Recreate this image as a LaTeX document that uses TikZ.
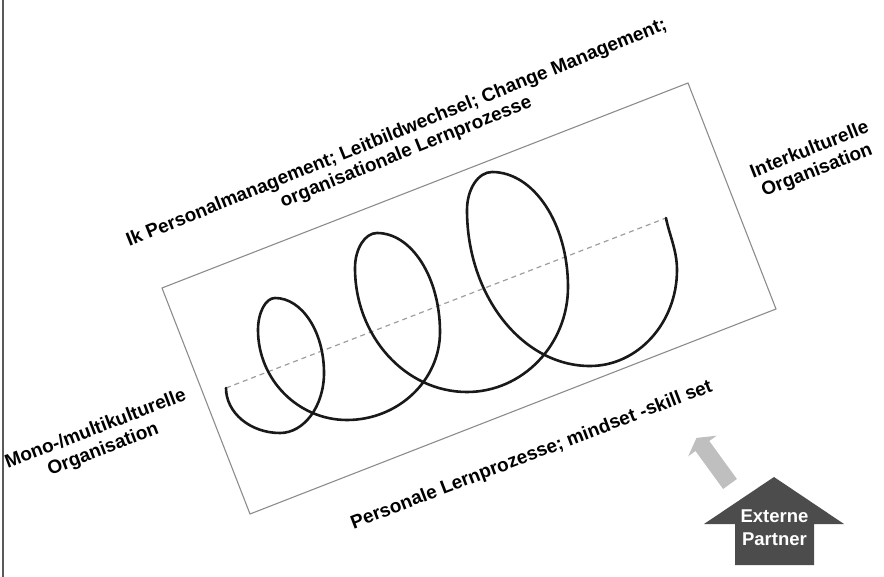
\documentclass[tikz,border=0pt]{standalone}
\usepackage{fontspec}
\setmainfont{Liberation Sans}
\begin{document}
\begin{tikzpicture}[x=1pt,y=-1pt,
  lbl/.style={font=\fontsize{19}{21}\selectfont\bfseries, inner sep=0pt},
  wlbl/.style={font=\fontsize{18.5}{22}\selectfont\bfseries, text=white, inner sep=0pt},
  boxline/.style={draw=black!45, line width=1.1pt},
  axisline/.style={draw=black!38, dash pattern=on 5pt off 4pt, line width=1.2pt},
  coil/.style={draw=black!90, line width=2.6pt, line cap=round},
]
\useasboundingbox (0,0) rectangle (884,577);
\coordinate (ft) at (3,0);
\coordinate (fb) at (3,577);
\draw[line width=2pt, black!65] (ft) -- (fb);

% rotated frame
\coordinate (tl) at (162,288);
\coordinate (tr) at (688,83);
\coordinate (br) at (776,309);
\coordinate (bl) at (250,514);
\draw[boxline] (tl) -- (tr) -- (br) -- (bl) -- cycle;

% axis
\coordinate (s) at (226,388);
\coordinate (e) at (666,218);
\draw[axisline] (s) -- (e);

% coil
\draw[coil] (s)
 .. controls +(0,24.75) and +(-29.7,0) .. (280,433)
 .. controls +(24.2,0) and +(0,33) .. (324,373)
 .. controls +(0,-41.25) and +(26.95,0) .. (275,298)
 .. controls +(-9.35,0) and +(0,-17.6) .. (258,330)
 .. controls +(0,49.5) and +(-48.95,0) .. (347,420)
 .. controls +(51.15,0) and +(0,48.4) .. (440,332)
 .. controls +(0,-54.45) and +(34.65,0) .. (377,233)
 .. controls +(-12.1,0) and +(0,-19.25) .. (355,268)
 .. controls +(0,68.2) and +(-61.6,0) .. (467,392)
 .. controls +(55.55,0) and +(0,57.75) .. (568,287)
 .. controls +(0,-63.25) and +(41.8,0) .. (492,172)
 .. controls +(-13.75,0) and +(0,-20.9) .. (467,210)
 .. controls +(0,85.8) and +(-67.65,0) .. (590,366)
 .. controls +(47.85,0) and +(0,52.8) .. (677,270)
 .. controls +(0,-20) and +(3,16) .. (e);

% labels
\node[lbl, rotate=22, anchor=base] (top1) at (398.5,138) {Ik Personalmanagement; Leitbildwechsel; Change Management;};
\node[lbl, rotate=22, anchor=base] (top2) at (408,157) {organisationale Lernprozesse};
\node[lbl, rotate=21, anchor=base] (bot) at (533.5,460) {Personale Lernprozesse; mindset -skill set};
\node[lbl, rotate=21, anchor=base] (mono1) at (97.5,434) {Mono-/multikulturelle};
\node[lbl, rotate=21, anchor=base] (mono2) at (105,454.5) {Organisation};
\node[lbl, rotate=21.5, anchor=base] (inter1) at (811.5,155) {Interkulturelle};
\node[lbl, rotate=21.5, anchor=base] (inter2) at (819,175.5) {Organisation};

% light arrow
\fill[black!25] (723.1,489) -- (695.5,451) -- (688.2,456.3) -- (696.5,437.9)
  -- (716.6,435.7) -- (709.3,441) -- (736.9,479) -- cycle;

% Externe Partner block arrow
\fill[black!70] (774,477) -- (844,524) -- (814,524) -- (814,565) -- (735,565)
  -- (735,524) -- (704,524) -- cycle;
\node[wlbl, anchor=base] (ext1) at (774.5,522.5) {Externe};
\node[wlbl, anchor=base] (ext2) at (774.5,545) {Partner};
\end{tikzpicture}
\end{document}
